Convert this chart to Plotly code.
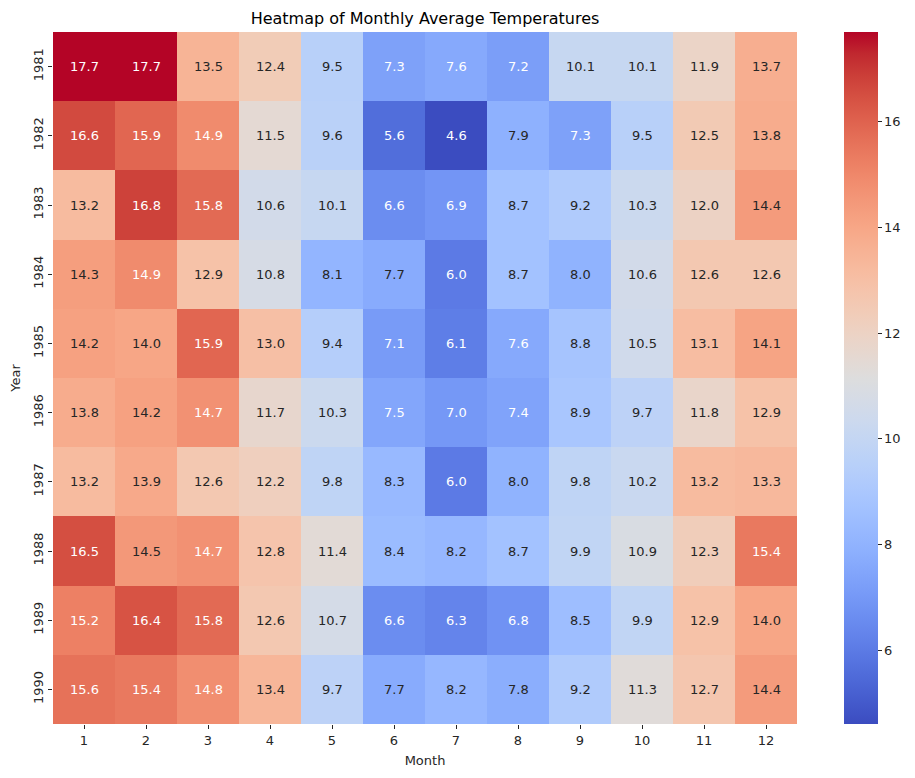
import plotly.graph_objects as go

months = ["1", "2", "3", "4", "5", "6", "7", "8", "9", "10", "11", "12"]
years = ["1981", "1982", "1983", "1984", "1985", "1986", "1987", "1988", "1989", "1990"]

t1981 = [17.7, 17.7, 13.5, 12.4, 9.5, 7.3, 7.6, 7.2, 10.1, 10.1, 11.9, 13.7]
t1982 = [16.6, 15.9, 14.9, 11.5, 9.6, 5.6, 4.6, 7.9, 7.3, 9.5, 12.5, 13.8]
t1983 = [13.2, 16.8, 15.8, 10.6, 10.1, 6.6, 6.9, 8.7, 9.2, 10.3, 12.0, 14.4]
t1984 = [14.3, 14.9, 12.9, 10.8, 8.1, 7.7, 6.0, 8.7, 8.0, 10.6, 12.6, 12.6]
t1985 = [14.2, 14.0, 15.9, 13.0, 9.4, 7.1, 6.1, 7.6, 8.8, 10.5, 13.1, 14.1]
t1986 = [13.8, 14.2, 14.7, 11.7, 10.3, 7.5, 7.0, 7.4, 8.9, 9.7, 11.8, 12.9]
t1987 = [13.2, 13.9, 12.6, 12.2, 9.8, 8.3, 6.0, 8.0, 9.8, 10.2, 13.2, 13.3]
t1988 = [16.5, 14.5, 14.7, 12.8, 11.4, 8.4, 8.2, 8.7, 9.9, 10.9, 12.3, 15.4]
t1989 = [15.2, 16.4, 15.8, 12.6, 10.7, 6.6, 6.3, 6.8, 8.5, 9.9, 12.9, 14.0]
t1990 = [15.6, 15.4, 14.8, 13.4, 9.7, 7.7, 8.2, 7.8, 9.2, 11.3, 12.7, 14.4]

z = [t1981, t1982, t1983, t1984, t1985, t1986, t1987, t1988, t1989, t1990]

# matplotlib "coolwarm" colormap samples
cw = [
    (59, 76, 192), (68, 90, 204), (77, 104, 215), (87, 117, 225), (98, 130, 234),
    (108, 142, 241), (119, 154, 247), (130, 165, 251), (141, 176, 254), (152, 185, 255),
    (163, 194, 255), (174, 201, 253), (184, 208, 249), (194, 213, 244), (204, 217, 238),
    (213, 219, 230), (221, 221, 221), (229, 216, 209), (236, 211, 197), (241, 204, 184),
    (245, 196, 172), (247, 187, 159), (247, 177, 147), (247, 166, 134), (244, 154, 123),
    (241, 141, 111), (236, 127, 99), (229, 112, 88), (222, 96, 77), (213, 80, 66),
    (203, 62, 56), (192, 40, 47), (180, 4, 38),
]
n = len(cw) - 1
colorscale = [[i / n, "rgb(%d,%d,%d)" % c] for i, c in enumerate(cw)]

vals = [v for row in z for v in row]
vmin, vmax = min(vals), max(vals)


def cmap(v):
    f = (v - vmin) / (vmax - vmin) * n
    i = min(int(f), n - 1)
    t = f - i
    a, b = cw[i], cw[i + 1]
    return tuple(a[k] + (b[k] - a[k]) * t for k in range(3))


def lum(rgb):
    out = []
    for c in rgb:
        c = c / 255.0
        out.append(c / 12.92 if c <= 0.03928 else ((c + 0.055) / 1.055) ** 2.4)
    return 0.2126 * out[0] + 0.7152 * out[1] + 0.0722 * out[2]


FONT = "DejaVu Sans"

fig = go.Figure(
    go.Heatmap(
        z=z, x=months, y=years,
        colorscale=colorscale, zmin=vmin, zmax=vmax,
        xgap=0, ygap=0,
        colorbar=dict(
            thickness=34, thicknessmode="pixels",
            len=1.0, lenmode="fraction", y=0.5, yanchor="middle",
            x=1.063, xanchor="left", xpad=0, ypad=0,
            outlinewidth=0,
            tickvals=[6, 8, 10, 12, 14, 16],
            ticks="outside", ticklen=4, tickcolor="#262626",
            tickfont=dict(family=FONT, size=13, color="#262626"),
        ),
        hoverinfo="skip",
    )
)

# annotations on category axes are positioned by category index
for yi in range(len(years)):
    for xi in range(len(months)):
        v = z[yi][xi]
        col = "#262626" if lum(cmap(v)) > 0.408 else "white"
        fig.add_annotation(
            x=xi, y=yi, xref="x", yref="y", text="%.1f" % v, showarrow=False,
            font=dict(family=FONT, size=13, color=col),
        )

fig.update_layout(
    width=915, height=778,
    margin=dict(l=45, r=126, t=24, b=62, autoexpand=False),
    paper_bgcolor="white", plot_bgcolor="white",
    title=dict(
        text="Heatmap of Monthly Average Temperatures",
        x=(45 + 789) / 2 / 915, xanchor="center", y=1 - 10 / 778, yanchor="middle",
        font=dict(family=FONT, size=16, color="black"),
    ),
    xaxis=dict(
        type="category",
        title=dict(text="Month", font=dict(family=FONT, size=13, color="#262626"), standoff=9),
        ticks="outside", ticklen=4, tickcolor="#262626",
        tickfont=dict(family=FONT, size=13, color="#262626"),
        showgrid=False, zeroline=False, showline=False,
    ),
    yaxis=dict(
        type="category",
        title=dict(text="Year", font=dict(family=FONT, size=13, color="#262626"), standoff=8),
        autorange="reversed",
        ticks="outside", ticklen=4, tickcolor="#262626", tickangle=-90,
        tickfont=dict(family=FONT, size=13, color="#262626"),
        showgrid=False, zeroline=False, showline=False,
    ),
    font=dict(family=FONT),
)

fig.write_html("out.html")
